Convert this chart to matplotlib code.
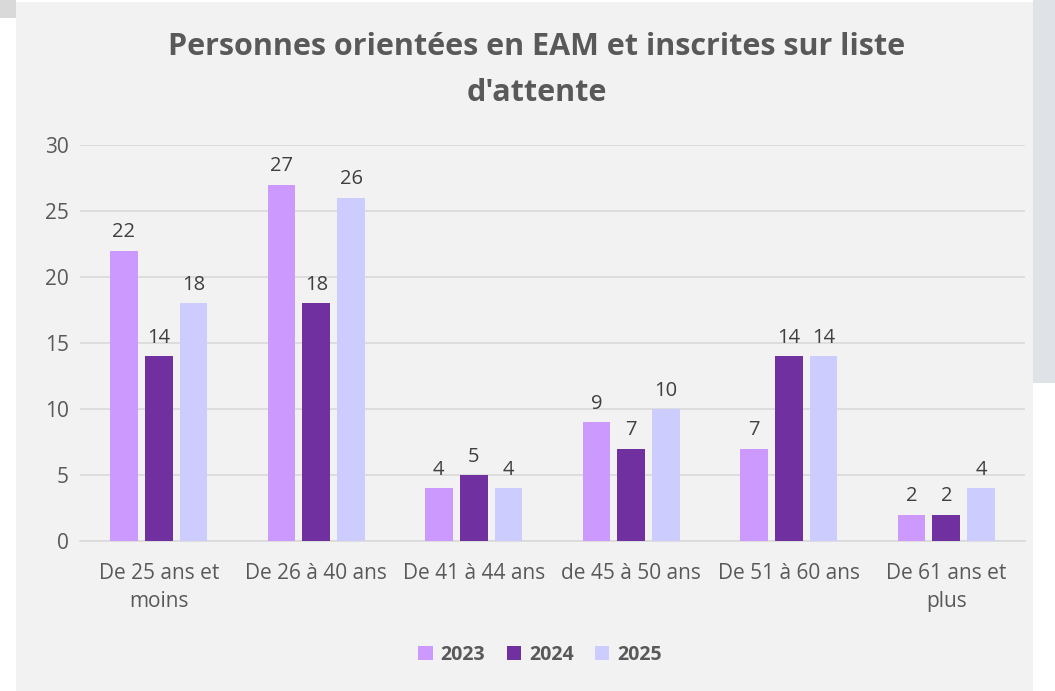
import matplotlib
matplotlib.use("Agg")
import matplotlib.pyplot as plt
import matplotlib.patches as mpatches
import numpy as np

categories = ["De 25 ans et\nmoins", "De 26 à 40 ans", "De 41 à 44 ans",
              "de 45 à 50 ans", "De 51 à 60 ans", "De 61 ans et\nplus"]
series_names = ["2023", "2024", "2025"]
v2023 = [22, 27, 4, 9, 7, 2]
v2024 = [14, 18, 5, 7, 14, 2]
v2025 = [18, 26, 4, 10, 14, 4]
colors = ["#cc99ff", "#7030a0", "#ccccff"]
title = "Personnes orientées en EAM et inscrites sur liste\nd'attente"

plt.rcParams['font.family'] = ['Open Sans', 'DejaVu Sans']

W, H = 1055, 691
fig = plt.figure(figsize=(W/100, H/100), dpi=100, facecolor="white")

# background panels
fig.patches.append(mpatches.Rectangle((16/W, 0), (1033-16)/W, (H-2)/H, transform=fig.transFigure,
                                      facecolor="#f2f2f2", edgecolor="none", zorder=-10))
fig.patches.append(mpatches.Rectangle((0, (H-18)/H), 16/W, 18/H, transform=fig.transFigure,
                                      facecolor="#d9d9d9", edgecolor="none", zorder=-10))
fig.patches.append(mpatches.Rectangle((1033/W, (H-383)/H), (W-1033)/W, 383/H, transform=fig.transFigure,
                                      facecolor="#dfe3e7", edgecolor="none", zorder=-10))

ax = fig.add_axes([80/W, (H-541)/H, (1025-80)/W, (541-145)/H])
ax.set_facecolor("none")

x = np.arange(len(categories))
width = 0.175
step = 0.222
data = [v2023, v2024, v2025]
for i, (vals, c, name) in enumerate(zip(data, colors, series_names)):
    bars = ax.bar(x + (i-1)*step, vals, width, color=c, label=name, zorder=3)
    for b, v in zip(bars, vals):
        ax.annotate(str(v), (b.get_x()+b.get_width()/2, v), xytext=(0, 6),
                    textcoords="offset points", ha="center", va="bottom",
                    fontsize=14.5, color="#404040")

ax.set_xlim(-0.5, len(categories)-0.5)
ax.set_ylim(0, 30)
ax.set_yticks(range(0, 31, 5))
ax.grid(axis="y", color="#d9d9d9", linewidth=1.2, zorder=0)
for s in ["top", "right", "left"]:
    ax.spines[s].set_visible(False)
ax.spines["bottom"].set_color("#d9d9d9")
ax.spines["bottom"].set_linewidth(1.2)
ax.tick_params(axis="both", length=0, labelsize=15, labelcolor="#595959")
ax.tick_params(axis="y", pad=8)
ax.tick_params(axis="x", pad=16)
ax.set_xticks(x)
ax.set_xticklabels(categories, linespacing=1.45)

fig.text(537/W, 1-70/H, title, ha="center", va="center", fontsize=22,
         fontweight="bold", color="#595959", linespacing=1.7)

leg = fig.legend(loc="center", bbox_to_anchor=(540/W, 1-655/H), ncol=3, frameon=False,
                 prop={"weight": "bold", "size": 14}, handlelength=0.75, handleheight=0.75,
                 handletextpad=0.4, columnspacing=1.1)
for t in leg.get_texts():
    t.set_color("#595959")

fig.savefig("out.png", dpi=100, facecolor=fig.get_facecolor())
